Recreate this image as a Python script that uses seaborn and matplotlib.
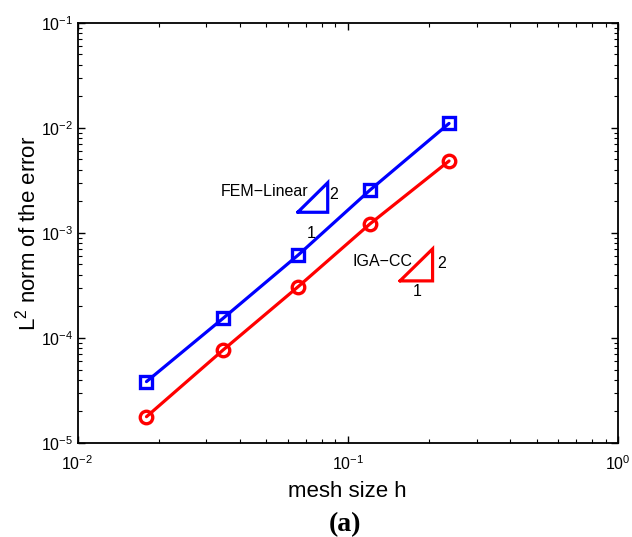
import numpy as np
import pandas as pd
import matplotlib
matplotlib.use("Agg")
import matplotlib.pyplot as plt
import seaborn as sns
from matplotlib.ticker import LogLocator, NullFormatter

# ---- data ----
h = [0.0180, 0.0346, 0.0656, 0.121, 0.237]
fem_linear = [3.84e-5, 1.54e-4, 6.16e-4, 2.56e-3, 1.10e-2]
iga_cc = [1.78e-5, 7.69e-5, 3.08e-4, 1.22e-3, 4.83e-3]

x_ticks = [1e-2, 1e-1, 1e0]
y_ticks = [1e-5, 1e-4, 1e-3, 1e-2, 1e-1]

# slope triangles (annotation anchors in data units)
fem_tri_x = [0.0653, 0.0843]
fem_tri_y = [1.57e-3, 3.0e-3]
iga_tri_x = [0.156, 0.206]
iga_tri_y = [3.49e-4, 7.03e-4]

sns.set_style("ticks")
plt.rcParams["font.family"] = ["Liberation Sans", "DejaVu Sans"]
plt.rcParams["mathtext.fontset"] = "custom"
plt.rcParams["mathtext.rm"] = "Liberation Sans"
plt.rcParams["mathtext.it"] = "Liberation Sans:italic"
plt.rcParams["mathtext.bf"] = "Liberation Sans:bold"
plt.rcParams["xtick.direction"] = "in"
plt.rcParams["ytick.direction"] = "in"
plt.rcParams["xtick.top"] = True
plt.rcParams["ytick.right"] = True
plt.rcParams["text.color"] = "black"
plt.rcParams["axes.labelcolor"] = "black"
plt.rcParams["xtick.color"] = "black"
plt.rcParams["ytick.color"] = "black"

fig = plt.figure(figsize=(6.32, 5.37), dpi=100)
ax = fig.add_axes([77.5 / 632, 1 - 443 / 537, (618 - 77.5) / 632, (443 - 22.7) / 537])

df_fem = pd.DataFrame({"h": h, "err": fem_linear})
df_iga = pd.DataFrame({"h": h, "err": iga_cc})

sns.lineplot(data=df_fem, x="h", y="err", ax=ax, color="#0000ff", linewidth=2.3,
             marker="s", markersize=9, markerfacecolor="none",
             markeredgecolor="#0000ff", markeredgewidth=2.4)
sns.lineplot(data=df_iga, x="h", y="err", ax=ax, color="#ff0000", linewidth=2.3,
             marker="o", markersize=9, markerfacecolor="none",
             markeredgecolor="#ff0000", markeredgewidth=2.4)

ax.set_xscale("log")
ax.set_yscale("log")
ax.set_xlim(1e-2, 1e0)
ax.set_ylim(1e-5, 1e-1)
ax.set_xticks(x_ticks)
ax.set_yticks(y_ticks)
ax.xaxis.set_minor_locator(LogLocator(base=10, subs=np.arange(2, 10)))
ax.yaxis.set_minor_locator(LogLocator(base=10, subs=np.arange(2, 10)))
ax.xaxis.set_minor_formatter(NullFormatter())
ax.yaxis.set_minor_formatter(NullFormatter())
ax.tick_params(which="major", length=5, width=1, labelsize=11.5, colors="black")
ax.tick_params(axis="x", which="major", pad=8)
ax.tick_params(axis="y", which="major", pad=3)
ax.tick_params(which="minor", length=3, width=0.8)
for s in ax.spines.values():
    s.set_visible(True)
    s.set_color("black")
    s.set_linewidth(1.3)

ax.set_xlabel("mesh size h", fontsize=16, labelpad=6)
ax.set_ylabel("L$^{\\mathdefault{2}}$ norm of the error", fontsize=16)
ax.yaxis.set_label_coords(-0.069, 0.5)

# slope triangles
def tri(xs, ys, color):
    ax.plot([xs[0], xs[1], xs[1], xs[0]], [ys[0], ys[0], ys[1], ys[0]],
            color=color, linewidth=2.3, solid_joinstyle="miter")

tri(fem_tri_x, fem_tri_y, "#0000ff")
tri(iga_tri_x, iga_tri_y, "#ff0000")

ax.text(0.0712, 2.45e-3, "FEM\u2212Linear", ha="right", va="center", fontsize=11.5)
ax.text(0.0889, 2.30e-3, "2", ha="center", va="center", fontsize=11.5)
ax.text(0.0735, 9.85e-4, "1", ha="center", va="center", fontsize=11.5)
ax.text(0.1738, 5.32e-4, "IGA\u2212CC", ha="right", va="center", fontsize=11.5)
ax.text(0.2226, 5.14e-4, "2", ha="center", va="center", fontsize=11.5)
ax.text(0.1807, 2.76e-4, "1", ha="center", va="center", fontsize=11.5)

fig.text(345 / 632, 1 - 525 / 537, "(a)", ha="center", va="center",
         fontsize=20, fontweight="bold", family=["Liberation Serif", "DejaVu Serif"])

fig.savefig("out.png", dpi=100)
